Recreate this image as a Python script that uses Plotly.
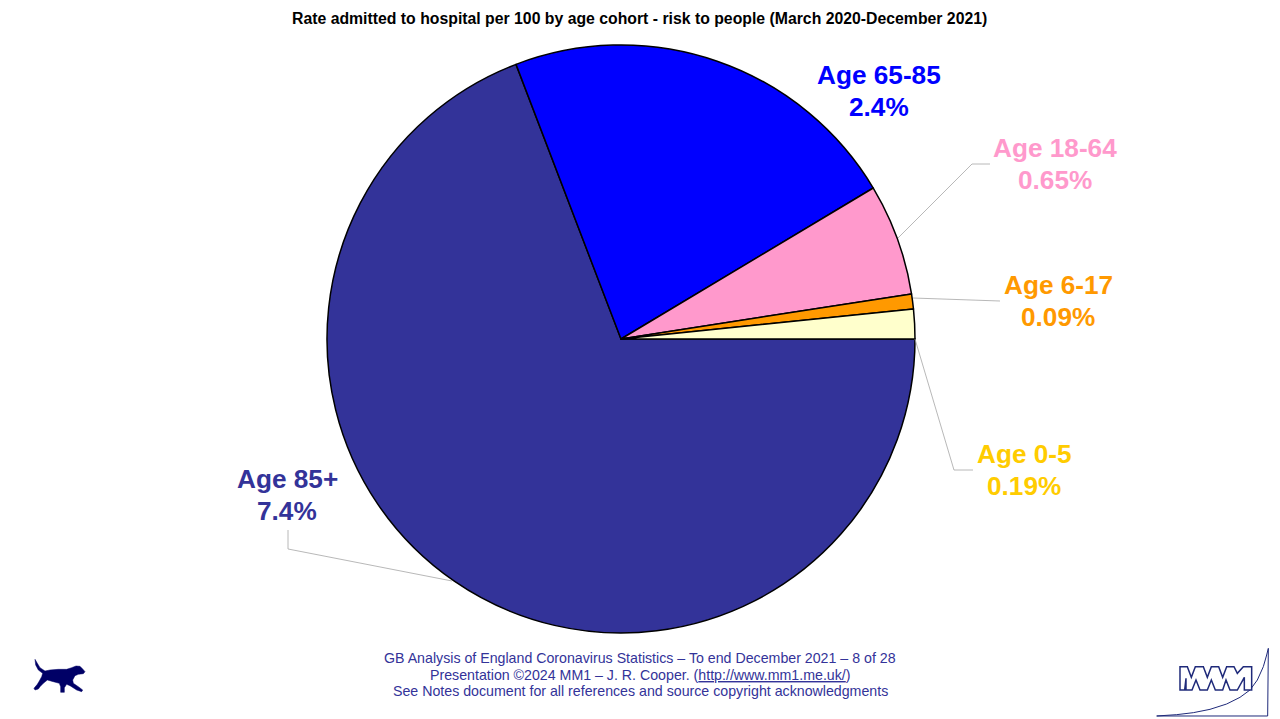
import plotly.graph_objects as go

# listed clockwise from 3 o'clock, as the pie is drawn
ages = ["Age 85+", "Age 65-85", "Age 18-64", "Age 6-17", "Age 0-5"]
rate_labels = ["7.4%", "2.4%", "0.65%", "0.09%", "0.19%"]
# slice sizes
rates = [7.424, 2.385, 0.658, 0.088, 0.175]
slice_colors = ["#333399", "#0000FF", "#FF99CC", "#FF9900", "#FFFFCC"]
label_colors = ["#333399", "#0000FF", "#FF99CC", "#FF9900", "#FFCC00"]
label_centres = [(287, 495), (879, 91), (1055, 164), (1058, 301), (1024, 470)]
leaders = [
    [(915, 339), (954, 470), (973, 470)],
    [(913, 298), (1000, 301)],
    [(898, 238), (972, 164), (990, 164)],
    [(452, 581), (288, 549), (288, 530)],
]
footer_lines = [
    "GB Analysis of England Coronavirus Statistics – To end December 2021 – 8 of 28",
    "Presentation ©2024 MM1 – J. R. Cooper. (<u>http://www.mm1.me.uk/</u>)",
    "See Notes document for all references and source copyright acknowledgments",
]
footer_y = [658, 675, 691]

# the page body has an 8px margin
OFFSET = 8
W = 1280 - OFFSET
H = 719 - OFFSET
NAVY = "#333399"
LOGO = "#1F2A7A"


def px(x):
    return (x - OFFSET) / W


def py(y):
    return 1 - (y - OFFSET) / H


def path(points, close=False):
    d = "M " + " L ".join(f"{px(x):.5f} {py(y):.5f}" for x, y in points)
    return d + " Z" if close else d


def zoom_pts(points, x0, y0):
    return [(x0 + x / 3, y0 + y / 3) for x, y in points]


def text_at(x, y, text, size, colour):
    return dict(x=px(x), y=py(y), xref="paper", yref="paper", showarrow=False,
                xanchor="center", yanchor="middle", text=text,
                font=dict(family="Liberation Sans", size=size, color=colour))


fig = go.Figure(go.Pie(
    labels=ages,
    values=rates,
    sort=False,
    direction="clockwise",
    rotation=90,
    textinfo="none",
    hoverinfo="label",
    marker=dict(colors=slice_colors, line=dict(color="#000000", width=1.5)),
    domain=dict(x=[px(621 - 294), px(621 + 294)], y=[py(633), py(45)]),
    showlegend=False,
))

shapes = []
for pts in leaders:
    shapes.append(dict(type="path", xref="paper", yref="paper", path=path(pts),
                       line=dict(color="#A6A6A6", width=0.8)))

# dog logo, bottom left
dog = [(45, 43), (52, 55), (60, 68), (75, 78), (90, 75), (115, 73), (140, 73), (155, 68), (168, 63),
       (180, 64), (188, 72), (195, 80), (190, 86), (175, 88), (165, 92), (158, 105), (160, 115),
       (175, 125), (188, 135), (185, 140), (170, 135), (150, 122), (140, 118), (133, 128), (133, 142),
       (122, 142), (122, 125), (118, 115), (100, 110), (82, 105), (70, 115), (60, 125), (55, 132),
       (45, 135), (42, 130), (52, 118), (58, 108), (65, 95), (68, 85), (55, 75), (47, 60)]
shapes.append(dict(type="path", xref="paper", yref="paper", path=path(zoom_pts(dog, 20, 645), True),
                   fillcolor="#000066", line=dict(color="#000066", width=0.5)))

# MM1 logo, bottom right
curve = [(20, 228), (80, 224), (130, 218), (180, 208), (230, 192), (270, 172), (300, 150), (322, 120),
         (340, 80), (350, 45), (355, 25), (353, 228), (20, 228)]
shapes.append(dict(type="path", xref="paper", yref="paper", path=path(zoom_pts(curve, 1150, 640)),
                   line=dict(color=LOGO, width=1)))
letters = [(90, 80), (112, 80), (124, 112), (136, 80), (160, 80), (172, 112), (184, 80), (206, 80),
           (218, 112), (230, 80), (252, 80), (262, 100), (280, 80), (305, 80), (305, 150), (283, 150),
           (283, 112), (262, 150), (240, 150), (228, 120), (218, 150), (196, 150), (184, 120), (172, 150),
           (150, 150), (138, 120), (126, 150), (108, 150), (108, 115), (104, 150), (90, 150)]
shapes.append(dict(type="path", xref="paper", yref="paper", path=path(zoom_pts(letters, 1150, 640), True),
                   fillcolor="#FFFFFF", line=dict(color=LOGO, width=1.5)))

annotations = [text_at(639, 18,
                       "<b>Rate admitted to hospital per 100 by age cohort - risk to people (March 2020-December 2021)</b>",
                       15.8, "#000000")]
for age, rate, colour, (cx, cy) in zip(ages, rate_labels, label_colors, label_centres):
    annotations.append(text_at(cx, cy - 16, f"<b>{age}</b>", 26.2, colour))
    annotations.append(text_at(cx, cy + 16, f"<b>{rate}</b>", 26.2, colour))
for line, y in zip(footer_lines, footer_y):
    annotations.append(text_at(640, y, line, 14.2, NAVY))

fig.update_layout(
    width=W,
    height=H,
    margin=dict(l=0, r=0, t=0, b=0),
    paper_bgcolor="#FFFFFF",
    shapes=shapes,
    annotations=annotations,
)

fig.write_html("out.html")
